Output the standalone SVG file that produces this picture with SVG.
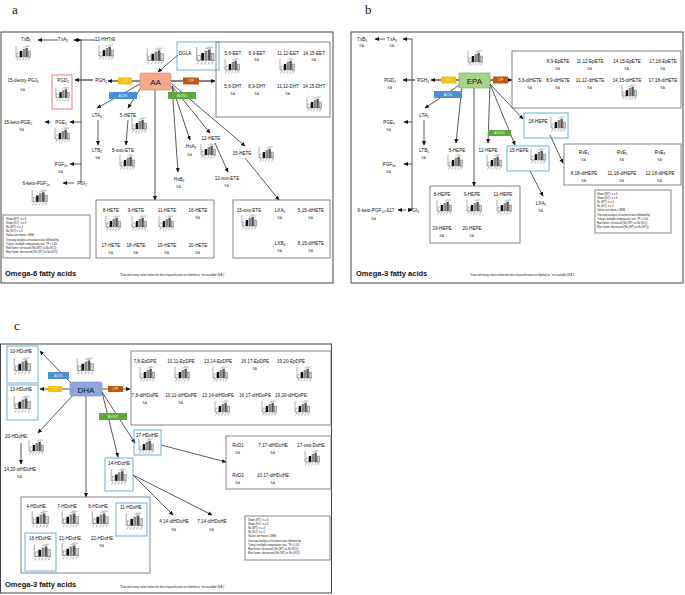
<svg xmlns="http://www.w3.org/2000/svg" width="685" height="595" viewBox="0 0 685 595">
<style>
text{font-family:"Liberation Sans",Arial,sans-serif;fill:#111}
.t{font-size:4.6px;text-anchor:middle}
.na{font-size:2.6px;text-anchor:middle}
.s{font-size:2.6px}
.big{font-size:8px;text-anchor:middle}
.h{font-size:7.5px;font-weight:bold}
.p{font-family:"Liberation Serif",serif;font-size:13px}
.en{font-size:2.6px;text-anchor:middle;fill:#fff}
.panel{fill:#fff;stroke:#444;stroke-width:1}
.gb{fill:none;stroke:#666;stroke-width:0.8}
.bb{fill:none;stroke:#5aa7dc;stroke-width:0.9}
.rb{fill:none;stroke:#e86a6a;stroke-width:0.9}
.c line,.c polyline{stroke:#111;stroke-width:0.7;fill:none}
.c .ar{marker-end:url(#a)}
.thick{stroke:#666!important;stroke-width:1.6!important}
</style>
<defs>
<marker id="a" markerWidth="5" markerHeight="5" refX="4" refY="2.5" orient="auto" markerUnits="userSpaceOnUse"><path d="M0,0.5L4.5,2.5L0,4.5z" fill="#111"/></marker>
<symbol id="ch" viewBox="0 0 18 16">
<line x1="2" y1="1" x2="2" y2="12" stroke="#333" stroke-width="0.4"/>
<line x1="2" y1="12" x2="17" y2="12" stroke="#333" stroke-width="0.4"/>
<rect x="3" y="8" width="2.4" height="4" fill="#fff" stroke="#333" stroke-width="0.3"/>
<rect x="5.8" y="6" width="2.4" height="6" fill="#111"/>
<rect x="8.6" y="4" width="2.4" height="8" fill="#888"/>
<rect x="11.4" y="3" width="2.4" height="9" fill="#555"/>
<rect x="14.2" y="6" width="2.4" height="6" fill="#ccc" stroke="#333" stroke-width="0.3"/>
<path d="M4,13l-1.5,2.5M7,13l-1.5,2.5M10,13l-1.5,2.5M13,13l-1.5,2.5M16,13l-1.5,2.5" stroke="#333" stroke-width="0.4"/>
<path d="M9,2h5M11,1h5" stroke="#333" stroke-width="0.3"/>
</symbol>
</defs>
<rect width="685" height="595" fill="#fff"/>

<text class="p" x="12" y="14">a</text>
<text class="p" x="365" y="14">b</text>
<text class="p" x="14" y="330">c</text>

<!-- Panel frames -->
<rect class="panel" x="1" y="32" width="332" height="251"/>
<rect class="panel" x="351" y="32" width="332" height="251"/>
<rect class="panel" x="0.5" y="344" width="331" height="249"/>

<!-- ===== Panel a connectors ===== -->
<g id="conn-a" class="c">
<line class="ar" x1="58" y1="40" x2="38" y2="40"/>
<line class="ar" x1="95" y1="40" x2="74" y2="40"/>
<line x1="81" y1="40" x2="81" y2="183"/>
<line class="ar" x1="81" y1="40" x2="81" y2="40"/>
<line class="ar thick" x1="93" y1="80" x2="75" y2="80"/>
<line class="ar" x1="81" y1="122" x2="70" y2="122"/>
<line class="ar" x1="81" y1="164" x2="70" y2="164"/>
<line class="ar" x1="51" y1="122" x2="45" y2="122"/>
<line class="ar" x1="74" y1="183" x2="63" y2="183"/>
<line class="ar thick" x1="118" y1="81" x2="108" y2="81"/>
<line class="thick" x1="132" y1="81" x2="140" y2="81"/>
<line class="thick" x1="171" y1="81" x2="183" y2="81"/>
<line class="ar thick" x1="199" y1="81" x2="215" y2="81"/>
<line class="ar" x1="178" y1="55" x2="158" y2="72"/>
<line class="ar" x1="140" y1="84" x2="97" y2="108"/>
<line class="ar" x1="142" y1="86" x2="128" y2="108"/>
<line class="ar" x1="155" y1="90" x2="155" y2="200"/>
<line class="ar" x1="172" y1="86" x2="178" y2="172"/>
<line class="ar" x1="172" y1="86" x2="190" y2="140"/>
<line class="ar" x1="172" y1="86" x2="210" y2="133"/>
<line class="ar" x1="172" y1="84" x2="245" y2="146"/>
<line class="ar" x1="215" y1="143" x2="228" y2="172"/>
<line class="ar" x1="245" y1="158" x2="279" y2="200"/>
<line class="ar" x1="98" y1="120" x2="98" y2="145"/>
<line class="ar" x1="128" y1="120" x2="126" y2="145"/>
<line x1="81" y1="40" x2="81" y2="40"/>
</g>

<!-- Panel a nodes -->
<g id="a-TxB2"><text class="t" x="26" y="41">TxB<tspan font-size="3" dy="1">2</tspan></text><use href="#ch" x="14" y="45" width="18" height="16"/></g>
<g id="a-TxA2"><text class="t" x="63" y="41">TxA<tspan font-size="3" dy="1">2</tspan></text></g>
<g id="a-12HHTrE"><text class="t" x="105" y="41">12-HHTrE</text><use href="#ch" x="97" y="44" width="18" height="16"/></g>
<g id="a-chartAA"><use href="#ch" x="145" y="47" width="20" height="18"/></g>
<g id="a-DGLA"><rect class="bb" x="177" y="42" width="42" height="28"/><text class="t" x="185" y="55">DGLA</text><use href="#ch" x="194" y="46" width="22" height="19"/></g>
<g id="a-EET"><rect class="gb" x="216" y="42" width="114" height="75"/>
<text class="t" x="233" y="55">5,6-EET</text><use href="#ch" x="223" y="58" width="18" height="16"/>
<text class="t" x="257" y="55">8,9-EET</text><text class="na" x="257" y="61">N.A.</text>
<text class="t" x="288" y="55">11,12-EET</text><use href="#ch" x="278" y="58" width="18" height="16"/>
<text class="t" x="314" y="55">14,15-EET</text><text class="na" x="314" y="61">N.A.</text>
<text class="t" x="233" y="88">5,6-DHT</text><text class="na" x="233" y="95">N.A.</text>
<text class="t" x="257" y="88">8,9-DHT</text><text class="na" x="257" y="95">N.A.</text>
<text class="t" x="288" y="88">11,12-DHT</text><text class="na" x="288" y="95">N.A.</text>
<text class="t" x="314" y="88">14,15-DHT</text><use href="#ch" x="305" y="96" width="18" height="16"/></g>
<g id="a-AA"><rect x="140" y="73" width="31" height="17" rx="1.5" fill="#f4a98a" stroke="#e08060" stroke-width="0.6"/><text class="big" x="155.5" y="85">AA</text></g>
<g id="a-COX"><rect x="118" y="77.5" width="14" height="7" fill="#f8c000"/><text class="en" x="125" y="82">COX</text></g>
<g id="a-CYP"><rect x="183" y="77.5" width="16" height="7" fill="#c0580c"/><text class="en" x="191" y="82">CYP</text></g>
<g id="a-ALOX5"><rect x="109" y="92" width="28" height="7" fill="#4a90d4"/><text class="en" x="123" y="96.5">ALOX5</text></g>
<g id="a-ALOX15"><rect x="168" y="92" width="28" height="7" fill="#5aaa3a"/><text class="en" x="182" y="96.5">ALOX15</text></g>
<g id="a-PGH2"><text class="t" x="101" y="82">PGH<tspan font-size="3" dy="1">2</tspan></text></g>
<g id="a-PGD2"><rect class="rb" x="52" y="75" width="20" height="34"/><text class="t" x="63" y="82">PGD<tspan font-size="3" dy="1">2</tspan></text><use href="#ch" x="54" y="86" width="17" height="16"/></g>
<g id="a-15dPGJ2"><text class="t" x="23" y="82">15-deoxy-PGJ<tspan font-size="3" dy="1">2</tspan></text><text class="na" x="23" y="91">N.A.</text></g>
<g id="a-15kPGE2"><text class="t" x="18" y="124">15-keto-PGE<tspan font-size="3" dy="1">2</tspan></text><text class="na" x="22" y="131">N.A.</text></g>
<g id="a-PGE2"><text class="t" x="61" y="124">PGE<tspan font-size="3" dy="1">2</tspan></text><use href="#ch" x="53" y="127" width="18" height="16"/></g>
<g id="a-PGF2a"><text class="t" x="61" y="166">PGF<tspan font-size="3" dy="1">2α</tspan></text><text class="na" x="61" y="173">N.A.</text></g>
<g id="a-6kPGF1a"><text class="t" x="36" y="185">6-keto-PGF<tspan font-size="3" dy="1">1α</tspan></text><use href="#ch" x="30" y="189" width="19" height="17"/></g>
<g id="a-PGI2"><text class="t" x="82" y="185">PGI<tspan font-size="3" dy="1">2</tspan></text></g>
<g id="a-LTA4"><text class="t" x="97" y="117">LTA<tspan font-size="3" dy="1">4</tspan></text></g>
<g id="a-LTB4"><text class="t" x="97" y="152">LTB<tspan font-size="3" dy="1">4</tspan></text><text class="na" x="98" y="159">N.A.</text></g>
<g id="a-5HETE"><text class="t" x="128" y="117">5-HETE</text><use href="#ch" x="130" y="117" width="18" height="16"/></g>
<g id="a-5oxo"><text class="t" x="123" y="152">5-oxo-ETE</text><use href="#ch" x="118" y="154" width="18" height="16"/></g>
<g id="a-HxA3"><text class="t" x="191" y="148">HxA<tspan font-size="3" dy="1">3</tspan></text><text class="na" x="190" y="156">N.A.</text><use href="#ch" x="199" y="143" width="18" height="16"/></g>
<g id="a-12HETE"><text class="t" x="211" y="140">12-HETE</text></g>
<g id="a-12oxo"><text class="t" x="227" y="180">12-oxo-ETE</text><text class="na" x="227" y="187">N.A.</text></g>
<g id="a-HxB3"><text class="t" x="179" y="181">HxB<tspan font-size="3" dy="1">3</tspan></text><text class="na" x="179" y="188">N.A.</text></g>
<g id="a-15HETE"><text class="t" x="242" y="155">15-HETE</text><use href="#ch" x="257" y="146" width="18" height="16"/></g>
<g id="a-HETEbox"><rect class="gb" x="96" y="200" width="118" height="58"/>
<text class="t" x="111" y="212">8-HETE</text><use href="#ch" x="104" y="215" width="18" height="16"/>
<text class="t" x="136" y="212">9-HETE</text><use href="#ch" x="130" y="215" width="18" height="16"/>
<text class="t" x="167" y="212">11-HETE</text><use href="#ch" x="157" y="215" width="18" height="16"/>
<text class="t" x="198" y="212">16-HETE</text><text class="na" x="198" y="219">N.A.</text>
<text class="t" x="111" y="247">17-HETE</text><text class="na" x="111" y="254">N.A.</text>
<text class="t" x="136" y="247">18-HETE</text><text class="na" x="136" y="254">N.A.</text>
<text class="t" x="167" y="247">19-HETE</text><text class="na" x="167" y="254">N.A.</text>
<text class="t" x="198" y="247">20-HETE</text><text class="na" x="198" y="254">N.A.</text></g>
<g id="a-15oxobox"><rect class="gb" x="233" y="200" width="97" height="58"/>
<text class="t" x="249" y="212">15-oxo-ETE</text><use href="#ch" x="240" y="214" width="18" height="16"/>
<text class="t" x="280" y="212">LXA<tspan font-size="3" dy="1">4</tspan></text><text class="na" x="280" y="219">N.A.</text>
<text class="t" x="311" y="212">5,15-diHETE</text><text class="na" x="311" y="219">N.A.</text>
<text class="t" x="280" y="245">LXB<tspan font-size="3" dy="1">4</tspan></text><text class="na" x="280" y="252">N.A.</text>
<text class="t" x="311" y="245">8,15-diHETE</text><text class="na" x="311" y="252">N.A.</text></g>
<g id="a-legend"><rect class="gb" x="3" y="215" width="87" height="43"/>
<text class="s" x="6" y="220">Sham (WT): n = 6</text><text class="s" x="6" y="224">Sham (KO): n = 6</text><text class="s" x="6" y="228">Nx (WT): n = 4</text><text class="s" x="6" y="232">Nx (KO): n = 4</text><text class="s" x="6" y="236">Values are mean ± SEM</text><text class="s" x="6" y="241">One-way analysis of variance was followed by</text><text class="s" x="6" y="245">Tukey's multiple comparisons test. *P &lt; 0.05.</text><text class="s" x="6" y="249">Red frame: increased (Nx (WT) vs Nx (KO))</text><text class="s" x="6" y="253">Blue frame: decreased (Nx (WT) vs Nx (KO))</text></g>
<text class="h" x="5" y="276">Omega-6 fatty acids</text>
<text class="s" x="120" y="276">*Data with many values below the limit of quantification are labeled as "not available (N.A.)".</text>

<!-- ===== Panel b ===== -->
<g id="conn-b" class="c">
<line class="ar" x1="385" y1="39" x2="375" y2="39"/>
<polyline points="412,39 412,210"/>
<line class="ar" x1="412" y1="39" x2="403" y2="39"/>
<line class="ar thick" x1="415" y1="80" x2="403" y2="80"/>
<line class="ar" x1="412" y1="122" x2="404" y2="122"/>
<line class="ar" x1="412" y1="164" x2="404" y2="164"/>
<line class="ar" x1="406" y1="210" x2="398" y2="210"/>
<line class="ar" x1="412" y1="210" x2="412" y2="210"/>
<line class="ar thick" x1="441" y1="80" x2="431" y2="80"/>
<line class="thick" x1="456" y1="80" x2="459" y2="80"/>
<line class="thick" x1="490" y1="80" x2="493" y2="80"/>
<line class="ar" x1="508" y1="80" x2="512" y2="80"/>
<line class="ar" x1="461" y1="84" x2="425" y2="108"/>
<line class="ar" x1="462" y1="86" x2="456" y2="143"/>
<line class="ar" x1="474" y1="88" x2="474" y2="186"/>
<line class="ar" x1="490" y1="84" x2="488" y2="143"/>
<line class="ar" x1="490" y1="84" x2="515" y2="145"/>
<line class="ar" x1="490" y1="84" x2="523" y2="119"/>
<line class="ar" x1="550" y1="135" x2="563" y2="163"/>
<line class="ar" x1="530" y1="171" x2="543" y2="196"/>
<line class="ar" x1="424" y1="120" x2="424" y2="145"/>
</g>
<g id="b-TxB3"><text class="t" x="362" y="41">TxB<tspan font-size="3" dy="1">3</tspan></text><text class="na" x="362" y="47">N.A.</text></g>
<g id="b-TxA3"><text class="t" x="392" y="41">TxA<tspan font-size="3" dy="1">3</tspan></text><text class="na" x="392" y="47">N.A.</text></g>
<g id="b-PGD3"><text class="t" x="390" y="82">PGD<tspan font-size="3" dy="1">3</tspan></text><text class="na" x="390" y="89">N.A.</text></g>
<g id="b-PGH3"><text class="t" x="423" y="82">PGH<tspan font-size="3" dy="1">3</tspan></text></g>
<g id="b-COX"><rect x="441" y="76.5" width="15" height="7" fill="#f8c000"/><text class="en" x="448.5" y="81">COX</text></g>
<g id="b-EPA"><rect x="459" y="73" width="31" height="15" fill="#a8d48a" stroke="#6aa84f" stroke-width="0.6"/><text class="big" x="474.5" y="84">EPA</text><use href="#ch" x="466" y="50" width="18" height="16"/></g>
<g id="b-CYP"><rect x="493" y="76.5" width="15" height="7" fill="#c0580c"/><text class="en" x="500.5" y="81">CYP</text></g>
<g id="b-ALOX5"><rect x="434" y="91" width="28" height="7" fill="#4a90d4"/><text class="en" x="448" y="95.5">ALOX5</text></g>
<g id="b-EpETE"><rect class="gb" x="512" y="51" width="169" height="57"/>
<text class="t" x="558" y="63">8,9-EpETE</text><text class="na" x="558" y="70">N.A.</text>
<text class="t" x="590" y="63">11,12-EpETE</text><text class="na" x="590" y="70">N.A.</text>
<text class="t" x="627" y="63">14,15-EpETE</text><text class="na" x="627" y="70">N.A.</text>
<text class="t" x="663" y="63">17,18-EpETE</text><text class="na" x="663" y="70">N.A.</text>
<text class="t" x="530" y="82">5,6-diHETE</text><text class="na" x="530" y="89">N.A.</text>
<text class="t" x="558" y="82">8,9-diHETE</text><text class="na" x="558" y="89">N.A.</text>
<text class="t" x="590" y="82">11,12-diHETE</text><text class="na" x="590" y="89">N.A.</text>
<text class="t" x="627" y="82">14,15-diHETE</text><use href="#ch" x="620" y="84" width="18" height="16"/>
<text class="t" x="663" y="82">17,18-diHETE</text><text class="na" x="663" y="89">N.A.</text></g>
<g id="b-PGE3"><text class="t" x="389" y="124">PGE<tspan font-size="3" dy="1">3</tspan></text><text class="na" x="389" y="131">N.A.</text></g>
<g id="b-PGF3a"><text class="t" x="389" y="166">PGF<tspan font-size="3" dy="1">3α</tspan></text><text class="na" x="389" y="173">N.A.</text></g>
<g id="b-6k"><text class="t" x="376" y="212">6-keto-PGF<tspan font-size="3" dy="1">1α</tspan><tspan dy="-1">-Δ17</tspan></text><text class="na" x="374" y="220">N.A.</text></g>
<g id="b-PGI3"><text class="t" x="414" y="212">PGI<tspan font-size="3" dy="1">3</tspan></text></g>
<g id="b-LTA5"><text class="t" x="424" y="117">LTA<tspan font-size="3" dy="1">5</tspan></text></g>
<g id="b-LTB5"><text class="t" x="424" y="152">LTB<tspan font-size="3" dy="1">5</tspan></text><text class="na" x="424" y="159">N.A.</text></g>
<g id="b-5HEPE"><text class="t" x="457" y="152">5-HEPE</text><use href="#ch" x="446" y="154" width="18" height="16"/></g>
<g id="b-18HEPE"><rect class="bb" x="524" y="113" width="44" height="25"/><text class="t" x="538" y="123">18-HEPE</text><use href="#ch" x="549" y="116" width="18" height="16"/></g>
<g id="b-ALOX15"><rect x="488" y="130" width="23" height="6" fill="#5aaa3a"/><text class="en" x="499.5" y="134">ALOX15</text></g>
<g id="b-12HEPE"><text class="t" x="488" y="152">12-HEPE</text><use href="#ch" x="485" y="154" width="18" height="16"/></g>
<g id="b-15HEPE"><rect class="bb" x="507" y="146" width="42" height="25"/><text class="t" x="519" y="152">15-HEPE</text><use href="#ch" x="529" y="148" width="18" height="16"/></g>
<g id="b-LXA5"><text class="t" x="541" y="205">LXA<tspan font-size="3" dy="1">5</tspan></text><text class="na" x="541" y="212">N.A.</text></g>
<g id="b-RvE"><rect class="gb" x="564" y="144" width="117" height="41"/>
<text class="t" x="584" y="154">RvE<tspan font-size="3" dy="1">1</tspan></text><text class="na" x="584" y="161">N.A.</text>
<text class="t" x="622" y="154">RvE<tspan font-size="3" dy="1">2</tspan></text><text class="na" x="622" y="161">N.A.</text>
<text class="t" x="660" y="154">RvE<tspan font-size="3" dy="1">3</tspan></text><text class="na" x="660" y="161">N.A.</text>
<text class="t" x="584" y="175">8,18-diHEPE</text><text class="na" x="584" y="182">N.A.</text>
<text class="t" x="622" y="175">11,18-diHEPE</text><text class="na" x="622" y="182">N.A.</text>
<text class="t" x="660" y="175">12,18-diHEPE</text><text class="na" x="660" y="182">N.A.</text></g>
<g id="b-HEPEbox"><rect class="gb" x="430" y="186" width="90" height="57"/>
<text class="t" x="442" y="196">8-HEPE</text><use href="#ch" x="435" y="199" width="18" height="16"/>
<text class="t" x="472" y="196">9-HEPE</text><use href="#ch" x="465" y="199" width="18" height="16"/>
<text class="t" x="503" y="196">11-HEPE</text><use href="#ch" x="495" y="199" width="18" height="16"/>
<text class="t" x="442" y="230">19-HEPE</text><text class="na" x="442" y="237">N.A.</text>
<text class="t" x="472" y="230">20-HEPE</text><text class="na" x="472" y="237">N.A.</text></g>
<g id="b-legend"><rect class="gb" x="595" y="190" width="76" height="43"/>
<text class="s" x="597" y="195">Sham (WT): n = 6</text><text class="s" x="597" y="199">Sham (KO): n = 6</text><text class="s" x="597" y="203">Nx (WT): n = 4</text><text class="s" x="597" y="207">Nx (KO): n = 4</text><text class="s" x="597" y="211">Values are mean ± SEM</text><text class="s" x="597" y="216">One-way analysis of variance was followed by</text><text class="s" x="597" y="220">Tukey's multiple comparisons test. *P &lt; 0.05.</text><text class="s" x="597" y="224">Red frame: increased (Nx (WT) vs Nx (KO))</text><text class="s" x="597" y="228">Blue frame: decreased (Nx (WT) vs Nx (KO))</text></g>
<text class="h" x="356" y="276">Omega-3 fatty acids</text>
<text class="s" x="470" y="276">*Data with many values below the limit of quantification are labeled as "not available (N.A.)".</text>

<!-- ===== Panel c ===== -->
<g id="conn-c" class="c">
<line class="ar" x1="72" y1="384" x2="40" y2="351"/>
<line class="ar" x1="70" y1="389" x2="40" y2="389"/>
<line class="ar" x1="102" y1="389" x2="130" y2="389"/>
<line class="ar" x1="73" y1="395" x2="38" y2="433"/>
<line class="ar" x1="86" y1="395" x2="86" y2="497"/>
<line class="ar" x1="102" y1="392" x2="135" y2="443"/>
<line class="ar" x1="102" y1="392" x2="118" y2="457"/>
<line class="ar" x1="161" y1="445" x2="226" y2="462"/>
<line class="ar" x1="133" y1="475" x2="173" y2="515"/>
<line class="ar" x1="133" y1="475" x2="212" y2="515"/>
<line class="ar" x1="21" y1="443" x2="21" y2="464"/>
</g>
<g id="c-10HDoHE"><rect class="bb" x="7" y="346" width="31" height="37"/><text class="t" x="21" y="353">10-HDoHE</text><use href="#ch" x="12" y="357" width="20" height="18"/></g>
<g id="c-13HDoHE"><rect class="bb" x="7" y="385" width="31" height="35"/><text class="t" x="21" y="391">13-HDoHE</text><use href="#ch" x="12" y="395" width="20" height="18"/></g>
<g id="c-ALOX5"><rect x="48" y="372" width="21" height="7" fill="#4a90d4"/><text class="en" x="58.5" y="376.5">ALOX5</text></g>
<g id="c-COX"><rect x="48" y="386" width="14" height="6" fill="#f8c000"/><text class="en" x="55" y="390">COX</text></g>
<g id="c-DHA"><rect x="70" y="382" width="32" height="14" rx="2" fill="#8fa6dc" stroke="#6b84c4" stroke-width="0.6"/><text class="big" x="86" y="392.5">DHA</text><use href="#ch" x="75" y="357" width="20" height="18"/></g>
<g id="c-CYP"><rect x="108" y="386" width="15" height="6" fill="#c0580c"/><text class="en" x="115.5" y="390">CYP</text></g>
<g id="c-ALOX15"><rect x="99" y="413" width="28" height="7" fill="#5aaa3a"/><text class="en" x="113" y="417.5">ALOX15</text></g>
<g id="c-EpDPE"><rect class="gb" x="131" y="351" width="200" height="74"/>
<text class="t" x="145" y="363">7,8-EpDPE</text><use href="#ch" x="138" y="366" width="18" height="16"/>
<text class="t" x="181" y="363">10,11-EpDPE</text><use href="#ch" x="173" y="366" width="18" height="16"/>
<text class="t" x="218" y="363">13,14-EpDPE</text><use href="#ch" x="211" y="366" width="18" height="16"/>
<text class="t" x="255" y="363">16,17-EpDPE</text><text class="na" x="255" y="370">N.A.</text>
<text class="t" x="291" y="363">19,20-EpDPE</text><use href="#ch" x="295" y="366" width="18" height="16"/>
<text class="t" x="145" y="397">7,8-diHDoPE</text><text class="na" x="145" y="404">N.A.</text>
<text class="t" x="181" y="397">10,11-diHDoPE</text><text class="na" x="181" y="404">N.A.</text>
<text class="t" x="218" y="397">13,14-diHDoPE</text><use href="#ch" x="213" y="400" width="18" height="16"/>
<text class="t" x="255" y="397">16,17-diHDoPE</text><use href="#ch" x="260" y="400" width="18" height="16"/>
<text class="t" x="291" y="397">19,20-diHDoPE</text><use href="#ch" x="293" y="400" width="18" height="16"/></g>
<g id="c-20HDoHE"><text class="t" x="16" y="438">20-HDoHE</text><use href="#ch" x="27" y="439" width="18" height="16"/></g>
<g id="c-1420"><text class="t" x="20" y="471">14,20-diHDoHE</text><text class="na" x="20" y="478">N.A.</text></g>
<g id="c-17HDoHE"><rect class="bb" x="134" y="430" width="27" height="25"/><text class="t" x="147" y="437">17-HDoHE</text><use href="#ch" x="137" y="438" width="18" height="16"/></g>
<g id="c-14HDoHE"><rect class="bb" x="105" y="458" width="28" height="33"/><text class="t" x="119" y="465">14-HDoHE</text><use href="#ch" x="109" y="468" width="19" height="17"/></g>
<g id="c-RvD"><rect class="gb" x="226" y="436" width="105" height="53"/>
<text class="t" x="238" y="447">RvD1</text><text class="na" x="238" y="454">N.A.</text>
<text class="t" x="273" y="447">7,17-diHDoHE</text><text class="na" x="273" y="454">N.A.</text>
<text class="t" x="311" y="447">17-oxo-DoHE</text><use href="#ch" x="303" y="450" width="18" height="16"/>
<text class="t" x="238" y="477">RvD2</text><text class="na" x="238" y="484">N.A.</text>
<text class="t" x="273" y="477">10,17-diHDoHE</text><text class="na" x="273" y="484">N.A.</text></g>
<g id="c-HDoHEbox"><rect class="gb" x="21" y="497" width="129" height="76"/>
<text class="t" x="36" y="508">4-HDoHE</text><use href="#ch" x="30" y="510" width="20" height="18"/>
<text class="t" x="67" y="508">7-HDoHE</text><use href="#ch" x="60" y="510" width="20" height="18"/>
<text class="t" x="98" y="508">8-HDoHE</text><use href="#ch" x="90" y="510" width="20" height="18"/>
<rect class="bb" x="116" y="503" width="31" height="33"/><text class="t" x="131" y="509">11-HDoHE</text><use href="#ch" x="124" y="512" width="20" height="18"/>
<rect class="bb" x="25" y="533" width="31" height="38"/><text class="t" x="40" y="540">16-HDoHE</text><use href="#ch" x="32" y="543" width="20" height="18"/>
<text class="t" x="70" y="540">21-HDoHE</text><use href="#ch" x="60" y="542" width="20" height="18"/>
<text class="t" x="102" y="540">22-HDoHE</text><text class="na" x="102" y="547">N.A.</text></g>
<g id="c-414"><text class="t" x="174" y="523">4,14-diHDoHE</text><text class="na" x="174" y="531">N.A.</text></g>
<g id="c-714"><text class="t" x="212" y="523">7,14-diHDoHE</text><text class="na" x="212" y="531">N.A.</text></g>
<g id="c-legend"><rect class="gb" x="245" y="516" width="85" height="44"/>
<text class="s" x="248" y="521">Sham (WT): n = 6</text><text class="s" x="248" y="525">Sham (KO): n = 6</text><text class="s" x="248" y="529">Nx (WT): n = 4</text><text class="s" x="248" y="533">Nx (KO): n = 4</text><text class="s" x="248" y="537">Values are mean ± SEM</text><text class="s" x="248" y="542">One-way analysis of variance was followed by</text><text class="s" x="248" y="546">Tukey's multiple comparisons test. *P &lt; 0.05.</text><text class="s" x="248" y="550">Red frame: increased (Nx (WT) vs Nx (KO))</text><text class="s" x="248" y="554">Blue frame: decreased (Nx (WT) vs Nx (KO))</text></g>
<text class="h" x="5" y="587">Omega-3 fatty acids</text>
<text class="s" x="120" y="588">*Data with many values below the limit of quantification are labeled as "not available (N.A.)".</text>
</svg>
